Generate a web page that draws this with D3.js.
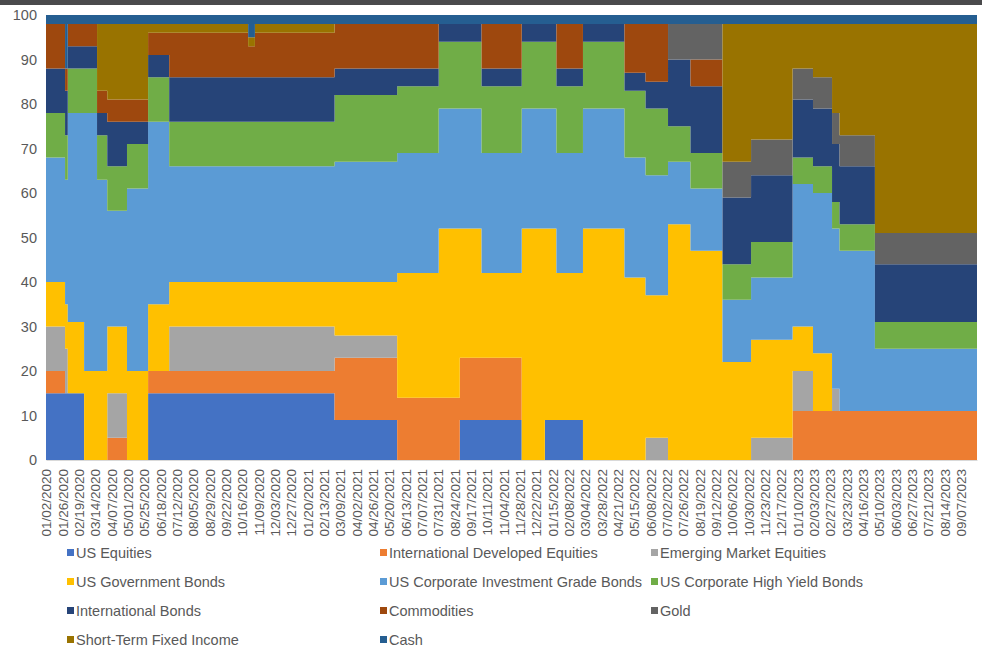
<!DOCTYPE html>
<meta charset="utf-8">
<style>
body { margin: 0; background: #fff; }
svg { display: block; }
.axis text { fill: #595959; font-family: "Liberation Sans", Arial, sans-serif; }
.legend text { fill: #595959; font-family: "Liberation Sans", Arial, sans-serif; font-size: 14.5px; }
</style>
<svg width="982" height="648"></svg>
<script src="https://d3js.org/d3.v7.min.js"></script>
<script>

// rebalance dates, each allocation holds until the next one
var rebalanceDates = ["2020-01-02","2020-01-30","2020-02-03","2020-02-27","2020-03-17","2020-04-01","2020-04-30","2020-05-31",
  "2020-07-01","2020-10-25","2020-11-04","2021-03-01","2021-06-01","2021-08-01","2021-09-01","2021-10-03",
  "2021-12-01","2022-01-04","2022-01-21","2022-03-01","2022-05-01","2022-06-01","2022-07-04","2022-08-06",
  "2022-09-22","2022-11-03","2023-01-03","2023-02-02","2023-03-02","2023-03-13","2023-05-04"];
var endDate = "2023-10-01";

var usEquities      = [15,15,15, 0, 0, 0, 0,15,15,15,15, 9, 0, 0, 9, 9, 0, 9, 9, 0, 0, 0, 0, 0, 0, 0, 0, 0, 0, 0, 0];
var intlDevEquities = [ 5, 0, 0, 0, 0, 5, 0, 5, 5, 5, 5,14,14,14,14,14, 0, 0, 0, 0, 0, 0, 0, 0, 0, 0,11,11,11,11,11];
var emEquities      = [10,10, 0, 0, 0,10, 0, 0,10,10,10, 5, 0, 0, 0, 0, 0, 0, 0, 0, 0, 5, 0, 0, 0, 5, 9, 0, 5, 0, 0];
var usGovBonds      = [10,10,16,20,20,15,20,15,10,10,10,12,28,38,29,19,52,43,33,52,41,32,53,47,22,22,10,13, 0, 0, 0];
var usCorpIG        = [28,28,47,58,43,26,41,41,26,26,26,27,27,27,27,27,27,27,27,27,27,27,14,14,14,14,32,36,36,36,14];
var usCorpHY        = [10,10,10,10,10,10,10,10,10,10,10,15,15,15,15,15,15,15,15,15,15,15, 8, 8, 8, 8, 6, 6, 6, 6, 6];
var intlBonds       = [10,10, 5, 5, 5,10, 5, 5,10,10,10, 6, 4, 4, 4, 4, 4, 4, 4, 4, 4, 6,15,15,15,15,13,13,13,13,13];
var commodities     = [10, 5, 5, 5, 5, 5, 5, 5,10, 7,10,10,10, 0, 0,10, 0, 0,10, 0,11,13, 0, 6, 0, 0, 0, 0, 0, 0, 0];
var gold            = [ 0, 0, 0, 0, 0, 0, 0, 0, 0, 0, 0, 0, 0, 0, 0, 0, 0, 0, 0, 0, 0, 0, 8, 8, 8, 8, 7, 7, 7, 7, 7];
var shortTermFI     = [ 0, 0, 0, 0,15,17,17, 2, 2, 2, 2, 0, 0, 0, 0, 0, 0, 0, 0, 0, 0, 0, 0, 0,31,26,10,12,20,25,47];
var cash            = [ 2,12, 2, 2, 2, 2, 2, 2, 2, 5, 2, 2, 2, 2, 2, 2, 2, 2, 2, 2, 2, 2, 2, 2, 2, 2, 2, 2, 2, 2, 2];

var seriesNames = ["US Equities","International Developed Equities","Emerging Market Equities",
  "US Government Bonds","US Corporate Investment Grade Bonds","US Corporate High Yield Bonds",
  "International Bonds","Commodities","Gold","Short-Term Fixed Income","Cash"];
var seriesValues = [usEquities, intlDevEquities, emEquities, usGovBonds, usCorpIG, usCorpHY,
  intlBonds, commodities, gold, shortTermFI, cash];
var seriesColors = ["#4472C4","#ED7D31","#A5A5A5","#FFC000","#5B9BD5","#70AD47",
  "#264478","#9E480E","#636363","#997300","#255E91"];

var xTickLabels = ["01/02/2020","01/26/2020","02/19/2020","03/14/2020","04/07/2020","05/01/2020","05/25/2020",
  "06/18/2020","07/12/2020","08/05/2020","08/29/2020","09/22/2020","10/16/2020","11/09/2020","12/03/2020",
  "12/27/2020","01/20/2021","02/13/2021","03/09/2021","04/02/2021","04/26/2021","05/20/2021","06/13/2021",
  "07/07/2021","07/31/2021","08/24/2021","09/17/2021","10/11/2021","11/04/2021","11/28/2021","12/22/2021",
  "01/15/2022","02/08/2022","03/04/2022","03/28/2022","04/21/2022","05/15/2022","06/08/2022","07/02/2022",
  "07/26/2022","08/19/2022","09/12/2022","10/06/2022","10/30/2022","11/23/2022","12/17/2022","01/10/2023",
  "02/03/2023","02/27/2023","03/23/2023","04/16/2023","05/10/2023","06/03/2023","06/27/2023","07/21/2023",
  "08/14/2023","09/07/2023"];
var yTicks = [0,10,20,30,40,50,60,70,80,90,100];

var parseDate = d3.timeParse("%Y-%m-%d"),
    parseTick = d3.timeParse("%m/%d/%Y"),
    formatTick = d3.timeFormat("%m/%d/%Y");

var svg = d3.select("svg"),
    plot = {left: 46, right: 977, top: 15, bottom: 460};

// top frame strip
svg.append("rect").attr("x", 0).attr("y", 0).attr("width", 982).attr("height", 5).attr("fill", "#4a4a4c");

// table for the stack, last allocation repeated at the end date
var keys = d3.range(seriesNames.length);
var table = rebalanceDates.map(function(d, i) {
  var row = {date: parseDate(d)};
  keys.forEach(function(k) { row[k] = seriesValues[k][i]; });
  return row;
});
var last = Object.assign({}, table[table.length - 1]);
last.date = parseDate(endDate);
table.push(last);

var x = d3.scaleTime()
    .domain([parseDate("2020-01-02"), parseDate(endDate)])
    .range([plot.left, plot.right]);
var y = d3.scaleLinear()
    .domain([0, 100])
    .range([plot.bottom, plot.top]);

var stacked = d3.stack().keys(keys)(table);

var area = d3.area()
    .curve(d3.curveStepAfter)
    .x(function(d) { return x(d.data.date); })
    .y0(function(d) { return y(d[0]); })
    .y1(function(d) { return y(d[1]); });

svg.append("g").selectAll("path")
  .data(stacked)
  .enter().append("path")
    .attr("fill", function(d) { return seriesColors[d.key]; })
    .attr("d", area);

// x axis
var xAxis = svg.append("g")
    .attr("class", "axis")
    .attr("transform", "translate(0," + plot.bottom + ")")
    .call(d3.axisBottom(x).tickValues(xTickLabels.map(parseTick)).tickFormat(formatTick).tickSize(0));
xAxis.select(".domain").attr("stroke", "#d9d9d9").attr("stroke-width", 1.2);
xAxis.selectAll("text")
    .style("font-size", "13.5px")
    .attr("text-anchor", "end")
    .attr("transform", "rotate(-90)")
    .attr("x", -9)
    .attr("y", 0)
    .attr("dy", "0.35em");

// y axis
var yAxis = svg.append("g")
    .attr("class", "axis")
    .attr("transform", "translate(" + (plot.left - 9) + ",0)")
    .call(d3.axisLeft(y).tickValues(yTicks).tickSize(0));
yAxis.select(".domain").remove();
yAxis.selectAll("text").style("font-size", "14.5px").attr("x", 0);

// legend, three columns
var colX = [67, 380, 651],
    rowY = [553, 582, 611, 640];
var legend = svg.append("g").attr("class", "legend")
  .selectAll("g")
  .data(seriesNames)
  .enter().append("g")
    .attr("transform", function(d, i) { return "translate(" + colX[i % 3] + "," + rowY[Math.floor(i / 3)] + ")"; });
legend.append("rect")
    .attr("x", 0).attr("y", -4)
    .attr("width", 7).attr("height", 7)
    .attr("fill", function(d, i) { return seriesColors[i]; });
legend.append("text")
    .attr("x", 9)
    .attr("dy", "0.35em")
    .text(function(d) { return d; });

</script>
